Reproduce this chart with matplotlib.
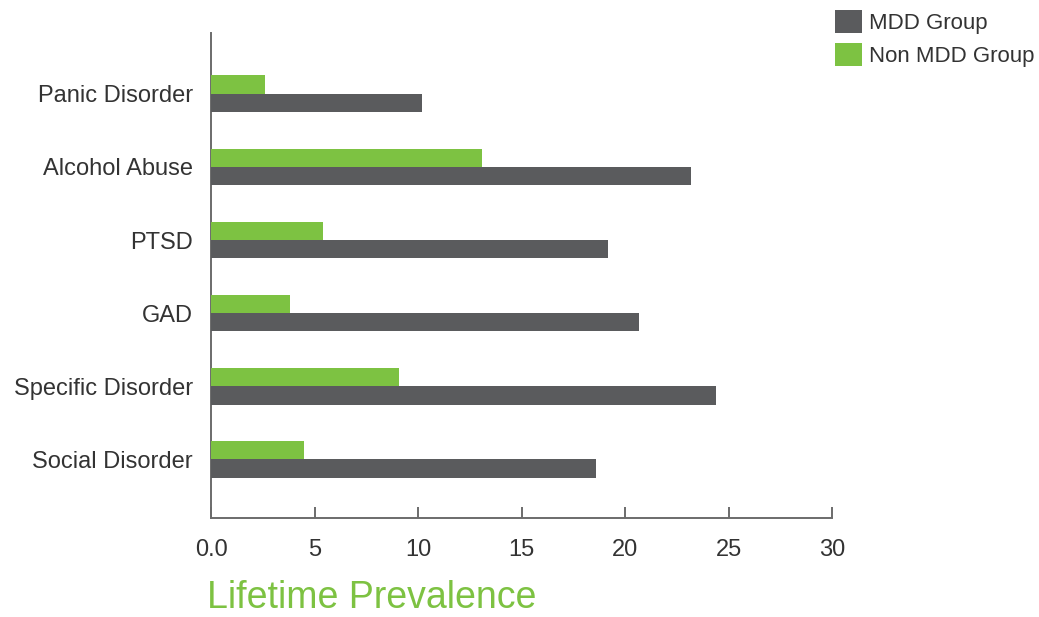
import numpy as np
import matplotlib.pyplot as plt
from matplotlib.patches import Patch

# ---------------- data ----------------
categories = ["Panic Disorder", "Alcohol Abuse", "PTSD", "GAD",
              "Specific Disorder", "Social Disorder"]
mdd = [10.2, 23.2, 19.2, 20.7, 24.4, 18.6]
non_mdd = [2.6, 13.1, 5.4, 3.8, 9.1, 4.5]
xticks = [0, 5, 10, 15, 20, 25, 30]
xtick_labels = ["0.0", "5", "10", "15", "20", "25", "30"]

dark = "#5a5b5d"
green = "#7dc242"
axis_grey = "#6b6b6b"

plt.rcParams['font.family'] = ['Liberation Sans', 'DejaVu Sans']

W, H = 1039, 617
fig = plt.figure(figsize=(W/100, H/100), dpi=100)
ax = fig.add_axes([211/W, 1 - 518/H, (832 - 211)/W, (518 - 33)/H])

y = np.arange(len(categories))
h = 0.25
ax.barh(y - h/2, non_mdd, height=h, color=green, zorder=3)
ax.barh(y + h/2, mdd, height=h, color=dark, zorder=3)

ax.set_xlim(0, 30)
ax.set_ylim(5.80, -0.83)
ax.set_xticks(xticks)
ax.set_xticklabels(xtick_labels)
ax.set_yticks(y)
ax.set_yticklabels(categories)

for s in ["top", "right"]:
    ax.spines[s].set_visible(False)
for s in ["left", "bottom"]:
    ax.spines[s].set_color(axis_grey)
    ax.spines[s].set_linewidth(1.4)

ax.tick_params(axis="x", direction="in", length=8, width=1.4, color=axis_grey,
               labelsize=17, labelcolor="#333333", pad=15)
ax.tick_params(axis="y", length=0, labelsize=17, labelcolor="#333333", pad=13)

fig.text(207/W, 1 - 598/H, "Lifetime Prevalence", color=green, fontsize=27,
         ha="left", va="center")

handles = [Patch(facecolor=dark, edgecolor="none"),
           Patch(facecolor=green, edgecolor="none")]
fig.legend(handles, ["MDD Group", "Non MDD Group"], loc="upper left",
           bbox_to_anchor=(835/W, 1 - 10/H), bbox_transform=fig.transFigure,
           frameon=False, borderpad=0, borderaxespad=0, fontsize=16,
           handlelength=1.2, handleheight=1.2, handletextpad=0.35,
           labelspacing=0.4, labelcolor="#333333")

fig.savefig("out.png", dpi=100)
